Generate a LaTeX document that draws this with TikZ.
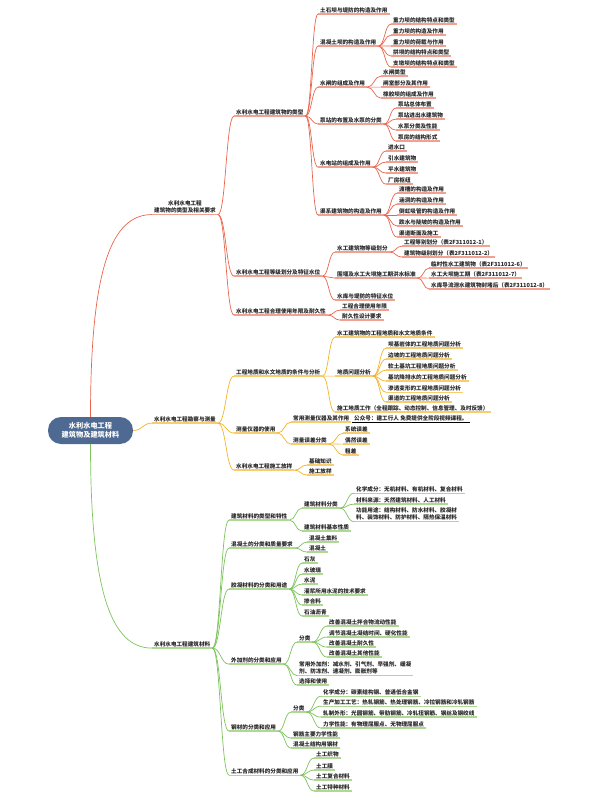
\documentclass[tikz,border=0pt]{standalone}
\usepackage{fontspec}
\setmainfont{Noto Sans CJK SC}
\usetikzlibrary{calc}

\definecolor{rootblue}{HTML}{4E6A92}
\definecolor{redln}{HTML}{E8654C}
\definecolor{redul}{HTML}{F2A190}
\definecolor{orgln}{HTML}{F4B227}
\definecolor{orgul}{HTML}{F8CD70}
\definecolor{grnln}{HTML}{7CC35C}
\definecolor{grnul}{HTML}{ADD993}

\begin{document}
\begin{tikzpicture}[
    x=1pt, y=-1pt,
    % Estilos de nodos
    root/.style={rectangle, rounded corners=13pt, fill=rootblue, text=white, minimum width=85pt, minimum height=27pt, align=center, font=\fontsize{7.2}{9}\selectfont\bfseries},
    topic/.style={anchor=west, inner xsep=2pt, inner ysep=1.2pt, align=left, text=black!85, font=\fontsize{5.6}{7}\selectfont\bfseries},
    redt/.style={topic, append after command={(\tikzlastnode.south west) edge[draw=redul, line width=1.3pt] (\tikzlastnode.south east)}},
    orgt/.style={topic, append after command={(\tikzlastnode.south west) edge[draw=orgul, line width=1.3pt] (\tikzlastnode.south east)}},
    grnt/.style={topic, append after command={(\tikzlastnode.south west) edge[draw=grnul, line width=1.3pt] (\tikzlastnode.south east)}},
    % Estilos de conectores
    conn/.style={to path={.. controls ($(\tikztostart)!0.5!(\tikztotarget|-\tikztostart)$) and ($(\tikztotarget)!0.5!(\tikztostart|-\tikztotarget)$) .. (\tikztotarget)}},
    redc/.style={draw=redln, line width=0.7pt},
    orgc/.style={draw=orgln, line width=0.7pt},
    grnc/.style={draw=grnln, line width=0.7pt}
]
\useasboundingbox (0,0) rectangle (594,805);

% 0. Tema central
\node[root] (root) at (90.5,430.5) {水利水电工程\\建筑物及建筑材料};

% 1. Rama roja: tipos de obras
\node[redt, align=center] (A) at (152,207) {水利水电工程\\建筑物的类型及相关要求};

\node[redt] (A1) at (234,112) {水利水电工程建筑物的类型};
\node[redt] (A11) at (318,10) {土石坝与堤防的构造及作用};
\node[redt] (A12) at (318,42) {混凝土坝的构造及作用};
\node[redt] (A121) at (391,20) {重力坝的结构特点和类型};
\node[redt] (A122) at (391,31) {重力坝的构造及作用};
\node[redt] (A123) at (391,42) {重力坝的荷载与作用};
\node[redt] (A124) at (391,52) {拱坝的结构特点和类型};
\node[redt] (A125) at (391,63) {支墩坝的结构特点和类型};
\node[redt] (A13) at (318,83) {水闸的组成及作用};
\node[redt] (A131) at (381,72) {水闸类型};
\node[redt] (A132) at (381,83) {闸室部分及其作用};
\node[redt] (A133) at (381,94) {橡胶坝的组成及作用};
\node[redt] (A14) at (318,120) {泵站的布置及水泵的分类};
\node[redt] (A141) at (396,104) {泵站总体布置};
\node[redt] (A142) at (396,115) {泵站进出水建筑物};
\node[redt] (A143) at (396,126) {水泵分类及性能};
\node[redt] (A144) at (396,137) {泵房的结构形式};
\node[redt] (A15) at (318,163) {水电站的组成及作用};
\node[redt] (A151) at (386,147) {进水口};
\node[redt] (A152) at (386,158) {引水建筑物};
\node[redt] (A153) at (386,169) {平水建筑物};
\node[redt] (A154) at (386,180) {厂房枢纽};
\node[redt] (A16) at (318,211) {渠系建筑物的构造及作用};
\node[redt] (A161) at (397,189) {渡槽的构造及作用};
\node[redt] (A162) at (397,200) {涵洞的构造及作用};
\node[redt] (A163) at (397,211) {倒虹吸管的构造及作用};
\node[redt] (A164) at (397,222) {跌水与陡坡的构造及作用};
\node[redt] (A165) at (397,233) {渠道断面及施工};

\node[redt] (A2) at (234,272) {水利水电工程等级划分及特征水位};
\node[redt] (A21) at (335,248) {水工建筑物等级划分};
\node[redt] (A211) at (402,242) {工程等别划分（表2F311012-1）};
\node[redt] (A212) at (402,253) {建筑物级别划分（表2F311012-2）};
\node[redt] (A22) at (335,274) {围堰及水工大坝施工期洪水标准};
\node[redt] (A221) at (429,264) {临时性水工建筑物（表2F311012-6）};
\node[redt] (A222) at (429,274) {水工大坝施工期（表2F311012-7）};
\node[redt] (A223) at (429,285) {水库导流泄水建筑物封堵后（表2F311012-8）};
\node[redt] (A23) at (335,296) {水库与堤防的特征水位};

\node[redt] (A3) at (234,311) {水利水电工程合理使用年限及耐久性};
\node[redt] (A31) at (340,306) {工程合理使用年限};
\node[redt] (A32) at (340,316) {耐久性设计要求};

\draw[redc] (root.north) .. controls +(0,-150) and +(-40,0) .. (A.south west);
\foreach \c in {A1,A2,A3} \draw[redc] (A.south east) to[conn] (\c.south west);
\foreach \c in {A11,A12,A13,A14,A15,A16} \draw[redc] (A1.south east) to[conn] (\c.south west);
\foreach \c in {A121,A122,A123,A124,A125} \draw[redc] (A12.south east) to[conn] (\c.south west);
\foreach \c in {A131,A132,A133} \draw[redc] (A13.south east) to[conn] (\c.south west);
\foreach \c in {A141,A142,A143,A144} \draw[redc] (A14.south east) to[conn] (\c.south west);
\foreach \c in {A151,A152,A153,A154} \draw[redc] (A15.south east) to[conn] (\c.south west);
\foreach \c in {A161,A162,A163,A164,A165} \draw[redc] (A16.south east) to[conn] (\c.south west);
\foreach \c in {A21,A22,A23} \draw[redc] (A2.south east) to[conn] (\c.south west);
\foreach \c in {A211,A212} \draw[redc] (A21.south east) to[conn] (\c.south west);
\foreach \c in {A221,A222,A223} \draw[redc] (A22.south east) to[conn] (\c.south west);
\foreach \c in {A31,A32} \draw[redc] (A3.south east) to[conn] (\c.south west);

% 2. Rama naranja: prospección y medición
\node[orgt] (B) at (152,419) {水利水电工程勘察与测量};

\node[orgt] (B1) at (234,372) {工程地质和水文地质的条件与分析};
\node[orgt] (B11) at (335,333) {水工建筑物的工程地质和水文地质条件};
\node[orgt] (B12) at (335,372) {地质问题分析};
\node[orgt] (B121) at (386,344) {坝基岩体的工程地质问题分析};
\node[orgt] (B122) at (386,355) {边坡的工程地质问题分析};
\node[orgt] (B123) at (386,366) {软土基坑工程地质问题分析};
\node[orgt] (B124) at (386,377) {基坑降排水的工程地质问题分析};
\node[orgt] (B125) at (386,388) {渗透变形的工程地质问题分析};
\node[orgt] (B126) at (386,398) {渠道的工程地质问题分析};
\node[orgt] (B13) at (335,408) {施工地质工作（全程跟踪、动态控制、信息管理、及时反馈）};

\node[orgt] (B2) at (234,429) {测量仪器的使用};
\node[orgt] (B21) at (291,418) {常用测量仪器及其作用};
\node[topic, append after command={(\tikzlastnode.south west) edge[draw=black, line width=0.6pt] (\tikzlastnode.south east)}] (wm) at (352,418) {公众号：建工行人 免费提供全阶段视频课程。};
\node[orgt] (B22) at (291,440) {测量误差分类};
\node[orgt] (B221) at (343,429) {系统误差};
\node[orgt] (B222) at (343,440) {偶然误差};
\node[orgt] (B223) at (343,451) {粗差};

\node[orgt] (B3) at (234,466) {水利水电工程施工放样};
\node[orgt] (B31) at (307,461) {基础知识};
\node[orgt] (B32) at (307,471) {施工放样};

\draw[orgc] (root.east) to[conn] (B.south west);
\foreach \c in {B1,B2,B3} \draw[orgc] (B.south east) to[conn] (\c.south west);
\foreach \c in {B11,B12,B13} \draw[orgc] (B1.south east) to[conn] (\c.south west);
\foreach \c in {B121,B122,B123,B124,B125,B126} \draw[orgc] (B12.south east) to[conn] (\c.south west);
\foreach \c in {B21,B22} \draw[orgc] (B2.south east) to[conn] (\c.south west);
\foreach \c in {B221,B222,B223} \draw[orgc] (B22.south east) to[conn] (\c.south west);
\foreach \c in {B31,B32} \draw[orgc] (B3.south east) to[conn] (\c.south west);

% 3. Rama verde: materiales de construcción
\node[grnt] (C) at (152,644) {水利水电工程建筑材料};

\node[grnt] (C1) at (229,516) {建筑材料的类型和特性};
\node[grnt] (C11) at (302,504) {建筑材料分类};
\node[grnt] (C111) at (354,489) {化学成分：无机材料、有机材料、复合材料};
\node[grnt] (C112) at (354,500) {材料来源：天然建筑材料、人工材料};
\node[grnt] (C113) at (354,514) {功能用途：结构材料、防水材料、胶凝材\\料、装饰材料、防护材料、隔热保温材料};
\node[grnt] (C12) at (302,527) {建筑材料基本性质};

\node[grnt] (C2) at (229,544) {混凝土的分类和质量要求};
\node[grnt] (C21) at (307,538) {混凝土集料};
\node[grnt] (C22) at (307,548) {混凝土};

\node[grnt] (C3) at (229,585) {胶凝材料的分类和用途};
\node[grnt] (C31) at (302,559) {石灰};
\node[grnt] (C32) at (302,570) {水玻璃};
\node[grnt] (C33) at (302,580) {水泥};
\node[grnt] (C34) at (302,591) {灌浆所用水泥的技术要求};
\node[grnt] (C35) at (302,601) {掺合料};
\node[grnt] (C36) at (302,612) {石油沥青};

\node[grnt] (C4) at (229,660) {外加剂的分类和应用};
\node[grnt] (C41) at (297,638) {分类};
\node[grnt] (C411) at (327,622) {改善混凝土拌合物流动性能};
\node[grnt] (C412) at (327,633) {调节混凝土凝结时间、硬化性能};
\node[grnt] (C413) at (327,643) {改善混凝土耐久性};
\node[grnt] (C414) at (327,653) {改善混凝土其他性能};
\node[grnt] (C42) at (297,668) {常用外加剂：减水剂、引气剂、早强剂、缓凝\\剂、防冻剂、速凝剂、膨胀剂等};
\node[grnt] (C43) at (297,681) {选择和使用};

\node[grnt] (C5) at (229,727) {钢材的分类和应用};
\node[grnt] (C51) at (291,708) {分类};
\node[grnt] (C511) at (321,692) {化学成分：碳素结构钢、普通低合金钢};
\node[grnt] (C512) at (321,702) {生产加工工艺：热轧钢筋、热处理钢筋、冷拉钢筋和冷轧钢筋};
\node[grnt] (C513) at (321,713) {轧制外形：光圆钢筋、带肋钢筋、冷轧扭钢筋、钢丝及钢绞线};
\node[grnt] (C514) at (321,724) {力学性能：有物理屈服点、无物理屈服点};
\node[grnt] (C52) at (291,734) {钢筋主要力学性能};
\node[grnt] (C53) at (291,744) {混凝土结构用钢材};

\node[grnt] (C6) at (229,771) {土工合成材料的分类和应用};
\node[grnt] (C61) at (314,754) {土工织物};
\node[grnt] (C62) at (314,766) {土工膜};
\node[grnt] (C63) at (314,776) {土工复合材料};
\node[grnt] (C64) at (314,787) {土工特种材料};

\draw[grnc] (root.south) .. controls +(0,150) and +(-40,0) .. (C.south west);
\foreach \c in {C1,C2,C3,C4,C5,C6} \draw[grnc] (C.south east) to[conn] (\c.south west);
\foreach \c in {C11,C12} \draw[grnc] (C1.south east) to[conn] (\c.south west);
\foreach \c in {C111,C112,C113} \draw[grnc] (C11.south east) to[conn] (\c.south west);
\foreach \c in {C21,C22} \draw[grnc] (C2.south east) to[conn] (\c.south west);
\foreach \c in {C31,C32,C33,C34,C35,C36} \draw[grnc] (C3.south east) to[conn] (\c.south west);
\foreach \c in {C41,C42,C43} \draw[grnc] (C4.south east) to[conn] (\c.south west);
\foreach \c in {C411,C412,C413,C414} \draw[grnc] (C41.south east) to[conn] (\c.south west);
\foreach \c in {C51,C52,C53} \draw[grnc] (C5.south east) to[conn] (\c.south west);
\foreach \c in {C511,C512,C513,C514} \draw[grnc] (C51.south east) to[conn] (\c.south west);
\foreach \c in {C61,C62,C63,C64} \draw[grnc] (C6.south east) to[conn] (\c.south west);

\end{tikzpicture}
\end{document}
